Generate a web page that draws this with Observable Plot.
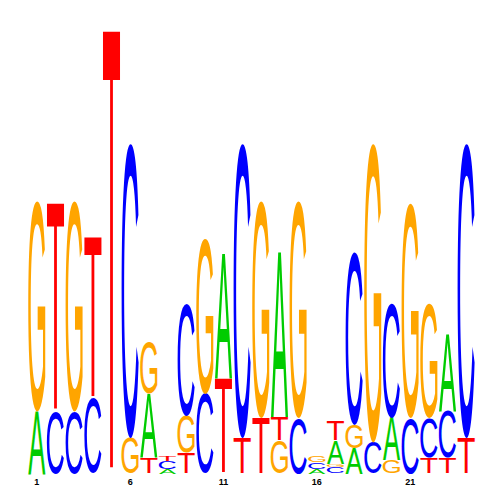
<!DOCTYPE html>
<html><head><meta charset="utf-8">
<script src="https://cdn.jsdelivr.net/npm/d3@7"></script>
<script src="https://cdn.jsdelivr.net/npm/@observablehq/plot@0.6"></script>
<style>body{margin:0;background:#fff}</style>
</head><body><div id="chart"></div>
<script>
// Sequence logo positions
const positions = d3.range(1, 25);
const tickLabels = [1, 6, 11, 16, 21];
// letter stacking per position, bottom -> top
const stackOrder = ["AG","CT","CG","CT","T","GC","TAG","ACT","TGC","CG","TA","TC","TG","GTA","CG","ACG","CGAT","AGC","CG","GAC","CG","TCG","TCA","TC"];
// information content (bits) per letter and position
const bitsA = [0.28,0,0,0,0,0,0.29,0.02,0,0,0.56,0,0,0.745,0,0.02,0.104,0.113,0,0.194,0,0,0.348,0];
const bitsC = [0,0.28,0.28,0.34,0,1.33,0,0.035,0.506,0.36,0,1.33,0,0,0.25,0.03,0.03,0.78,0.14,0.515,0.25,0.18,0.212,1.33];
const bitsG = [0.95,0,0.95,0,0,0.16,0.23,0,0.167,0.70,0,0,0.98,0.149,0.98,0.03,0.014,0.104,1.35,0.059,0.97,0.515,0,0];
const bitsT = [0,0.94,0,0.73,2.00,0,0.07,0.025,0.095,0,0.43,0.16,0.25,0.104,0,0,0.09,0,0,0,0,0.072,0.072,0.16];
const letterColors = {A: "#00CC00", C: "#0000FF", G: "#FFA500", T: "#FF0000"};

const heights = {A: bitsA, C: bitsC, G: bitsG, T: bitsT};
const rows = [];
positions.forEach((p, i) => {
  let y0 = 0;
  for (const L of stackOrder[i]) {
    const h = heights[L][i];
    if (h > 0) rows.push({pos: p, letter: L, y1: y0, y2: y0 + h, color: letterColors[L]});
    y0 += h;
  }
});

const FONT = "Liberation Sans";
const plot = Plot.plot({
  width: 500, height: 500,
  marginLeft: 27, marginRight: 25, marginTop: 30, marginBottom: 27,
  x: {domain: [0.5, 24.5], ticks: tickLabels, tickSize: 0, tickPadding: 5, label: null, tickFormat: d => String(d)},
  y: {domain: [0, 2], axis: null},
  color: {type: "identity"},
  style: {fontFamily: FONT + ", Arial, sans-serif", fontSize: "9px", fontWeight: "bold", background: "white", color: "black"},
  marks: [
    Plot.text(rows, {x: "pos", y: d => (d.y1 + d.y2) / 2, text: "letter", fill: "color",
      fontSize: 100, fontFamily: FONT, fontWeight: "normal"})
  ]
});
document.getElementById("chart").appendChild(plot);

// stretch each letter glyph into its box using the plot's scales
const sx = plot.scale("x"), sy = plot.scale("y");
const ctx = document.createElement("canvas").getContext("2d");
ctx.font = `100px '${FONT}'`;
const metrics = {};
for (const L of "ACGT") {
  const m = ctx.measureText(L);
  metrics[L] = {left: -m.actualBoundingBoxLeft, right: m.actualBoundingBoxRight,
                ascent: m.actualBoundingBoxAscent, descent: m.actualBoundingBoxDescent};
}
const texts = plot.querySelectorAll('g[aria-label="text"] text');
const step = sx.apply(2) - sx.apply(1);
texts.forEach((t, i) => {
  const d = rows[i];
  const xc = sx.apply(d.pos), half = 0.46 * step;
  const x0 = xc - half, x1 = xc + half;
  const yTop = sy.apply(d.y2), yBot = sy.apply(d.y1);
  const m = metrics[d.letter];
  const kx = (x1 - x0) / (m.right - m.left);
  const ky = (yBot - yTop) / (m.ascent + m.descent);
  t.removeAttribute("dy");
  t.setAttribute("x", 0); t.setAttribute("y", 0);
  t.setAttribute("text-anchor", "start");
  t.setAttribute("transform", `translate(${x0 - m.left * kx},${yBot - m.descent * ky}) scale(${kx},${ky})`);
});
</script>
</body></html>
